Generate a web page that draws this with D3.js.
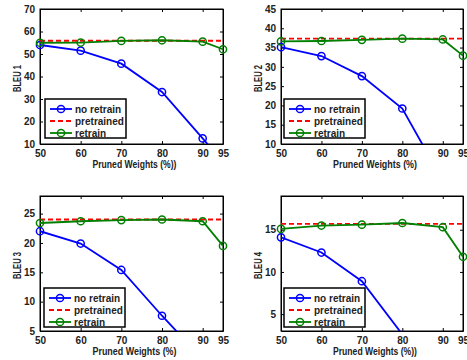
<!DOCTYPE html>
<html>
<head>
<meta charset="utf-8">
<script src="https://d3js.org/d3.v7.min.js"></script>
<style>
  body { margin: 0; background: #fff; }
  text { font-family: "Liberation Sans", Arial, sans-serif; font-weight: bold; fill: #222; }
</style>
</head>
<body>
<script>
// pruned weight levels (x axis)
var pruned = [50, 60, 70, 80, 90, 95];
var xTicks = [50, 60, 70, 80, 90, 95];

// BLEU 1
var bleu1NoRetrain = [54.0, 51.5, 45.7, 33.1, 12.5, 2];
var bleu1Retrain   = [55.0, 55.1, 55.8, 56.1, 55.5, 52.1];
var bleu1Pretrained = 55.9;

// BLEU 2
var bleu2NoRetrain = [35.1, 32.8, 27.6, 19.2, 0.5, 0.2];
var bleu2Retrain   = [36.6, 36.7, 37.0, 37.3, 37.1, 32.9];
var bleu2Pretrained = 37.3;

// BLEU 3
var bleu3NoRetrain = [22.0, 19.9, 15.4, 7.6, 0.2, 0.1];
var bleu3Retrain   = [23.4, 23.7, 23.9, 24.0, 23.7, 19.5];
var bleu3Pretrained = 24.0;

// BLEU 4
var bleu4NoRetrain = [14.1, 12.3, 8.9, 2.6, 0.1, 0.1];
var bleu4Retrain   = [15.1, 15.5, 15.6, 15.8, 15.3, 11.8];
var bleu4Pretrained = 15.7;

var legendLabels = ["no retrain", "pretrained", "retrain"];

var W = 467, H = 360;
var svg = d3.select("body").append("svg")
    .attr("width", W)
    .attr("height", H);

// one entry per panel
var panels = [
  {id: 1, x0: 40, x1: 223, y0: 9, y1: 144, dom: [10, 70], ticks: d3.range(10, 71, 10),
   noRetrain: bleu1NoRetrain, retrain: bleu1Retrain, pre: bleu1Pretrained,
   ylabel: "BLEU 1", xlabel: "Pruned Weights (%))", leg: [45, 99]},
  {id: 2, x0: 281, x1: 463, y0: 9, y1: 144, dom: [10, 45], ticks: d3.range(10, 46, 5),
   noRetrain: bleu2NoRetrain, retrain: bleu2Retrain, pre: bleu2Pretrained,
   ylabel: "BLEU 2", xlabel: "Pruned Weights (%)", leg: [284, 99]},
  {id: 3, x0: 40, x1: 223, y0: 196, y1: 331, dom: [5, 28], ticks: [5, 10, 15, 20, 25],
   noRetrain: bleu3NoRetrain, retrain: bleu3Retrain, pre: bleu3Pretrained,
   ylabel: "BLEU 3", xlabel: "Pruned Weights (%)", leg: [44, 288]},
  {id: 4, x0: 281, x1: 463, y0: 196, y1: 331, dom: [3, 19], ticks: [5, 10, 15],
   noRetrain: bleu4NoRetrain, retrain: bleu4Retrain, pre: bleu4Pretrained,
   ylabel: "BLEU 4", xlabel: "Pruned Weights (%))", leg: [284, 288]}
];

var blue = "#0000ff", green = "#008000", red = "#ff0000";

panels.forEach(function(p) {
  var x = d3.scaleLinear().domain([50, 95]).range([p.x0, p.x1]);
  var y = d3.scaleLinear().domain(p.dom).range([p.y1, p.y0]);
  var g = svg.append("g");

  g.append("clipPath").attr("id", "clip" + p.id)
    .append("rect")
    .attr("x", p.x0).attr("y", p.y0)
    .attr("width", p.x1 - p.x0).attr("height", p.y1 - p.y0);

  // axes with inward ticks, mirrored on top/right
  g.append("g")
    .attr("transform", "translate(0," + p.y1 + ")")
    .call(d3.axisBottom(x).tickValues(xTicks).tickSizeInner(-3).tickSizeOuter(0).tickPadding(6));
  g.append("g")
    .attr("transform", "translate(0," + p.y0 + ")")
    .call(d3.axisTop(x).tickValues(xTicks).tickSizeInner(-3).tickSizeOuter(0).tickFormat(""));
  g.append("g")
    .attr("transform", "translate(" + p.x0 + ",0)")
    .call(d3.axisLeft(y).tickValues(p.ticks).tickSizeInner(-3).tickSizeOuter(0).tickPadding(5));
  g.append("g")
    .attr("transform", "translate(" + p.x1 + ",0)")
    .call(d3.axisRight(y).tickValues(p.ticks).tickSizeInner(-3).tickSizeOuter(0).tickFormat(""));

  g.selectAll(".domain").attr("stroke", "#000");
  g.selectAll(".tick line").attr("stroke", "#000");
  g.selectAll(".tick text")
    .attr("font-size", 10)
    .attr("font-family", "Liberation Sans, Arial, sans-serif")
    .attr("font-weight", "bold")
    .attr("fill", "#222");

  // box
  g.append("rect")
    .attr("x", p.x0).attr("y", p.y0)
    .attr("width", p.x1 - p.x0).attr("height", p.y1 - p.y0)
    .attr("fill", "none").attr("stroke", "#000").attr("stroke-width", 1);

  var line = d3.line()
    .x(function(d, i) { return x(pruned[i]); })
    .y(function(d) { return y(d); });

  // no retrain
  g.append("path").datum(p.noRetrain)
    .attr("clip-path", "url(#clip" + p.id + ")")
    .attr("d", line).attr("fill", "none")
    .attr("stroke", blue).attr("stroke-width", 1.8);
  g.selectAll(".mb").data(p.noRetrain.map(function(v, i) { return [pruned[i], v]; })
      .filter(function(d) { return d[1] >= p.dom[0]; }))
    .enter().append("circle")
    .attr("cx", function(d) { return x(d[0]); })
    .attr("cy", function(d) { return y(d[1]); })
    .attr("r", 3.6).attr("fill", "none")
    .attr("stroke", blue).attr("stroke-width", 1.5);

  // pretrained
  g.append("line")
    .attr("x1", p.x0).attr("x2", p.x1)
    .attr("y1", y(p.pre)).attr("y2", y(p.pre))
    .attr("stroke", red).attr("stroke-width", 1.8)
    .attr("stroke-dasharray", "5,3");

  // retrain
  g.append("path").datum(p.retrain)
    .attr("d", line).attr("fill", "none")
    .attr("stroke", green).attr("stroke-width", 1.8);
  g.selectAll(".mg").data(p.retrain.map(function(v, i) { return [pruned[i], v]; }))
    .enter().append("circle")
    .attr("cx", function(d) { return x(d[0]); })
    .attr("cy", function(d) { return y(d[1]); })
    .attr("r", 3.6).attr("fill", "none")
    .attr("stroke", green).attr("stroke-width", 1.5);

  // axis titles
  g.append("text")
    .attr("x", (p.x0 + p.x1) / 2 + 3)
    .attr("y", p.y1 + 24)
    .attr("text-anchor", "middle")
    .attr("font-size", 10.5)
    .attr("textLength", 84).attr("lengthAdjust", "spacingAndGlyphs")
    .text(p.xlabel);
  g.append("text")
    .attr("transform", "translate(" + (p.x0 - 19) + "," + ((p.y0 + p.y1) / 2 + 2) + ") rotate(-90)")
    .attr("text-anchor", "middle")
    .attr("font-size", 10)
    .attr("textLength", 27).attr("lengthAdjust", "spacingAndGlyphs")
    .text(p.ylabel);

  // legend
  var lx = p.leg[0], ly = p.leg[1];
  var lg = g.append("g").attr("transform", "translate(" + lx + "," + ly + ")");
  lg.append("rect")
    .attr("width", 81).attr("height", 39)
    .attr("fill", "#fff").attr("stroke", "#000").attr("stroke-width", 1.5);
  var cols = [blue, red, green];
  legendLabels.forEach(function(lab, i) {
    var yy = 10 + i * 12;
    lg.append("line")
      .attr("x1", 5).attr("x2", 27).attr("y1", yy).attr("y2", yy)
      .attr("stroke", cols[i]).attr("stroke-width", 1.8)
      .attr("stroke-dasharray", i === 1 ? "5,3" : null);
    if (i !== 1) {
      lg.append("circle").attr("cx", 16).attr("cy", yy).attr("r", 3.6)
        .attr("fill", "none").attr("stroke", cols[i]).attr("stroke-width", 1.5);
    }
    lg.append("text")
      .attr("x", 30).attr("y", yy + 3.6)
      .attr("font-size", 10)
      .text(lab);
  });
});
</script>
</body>
</html>
